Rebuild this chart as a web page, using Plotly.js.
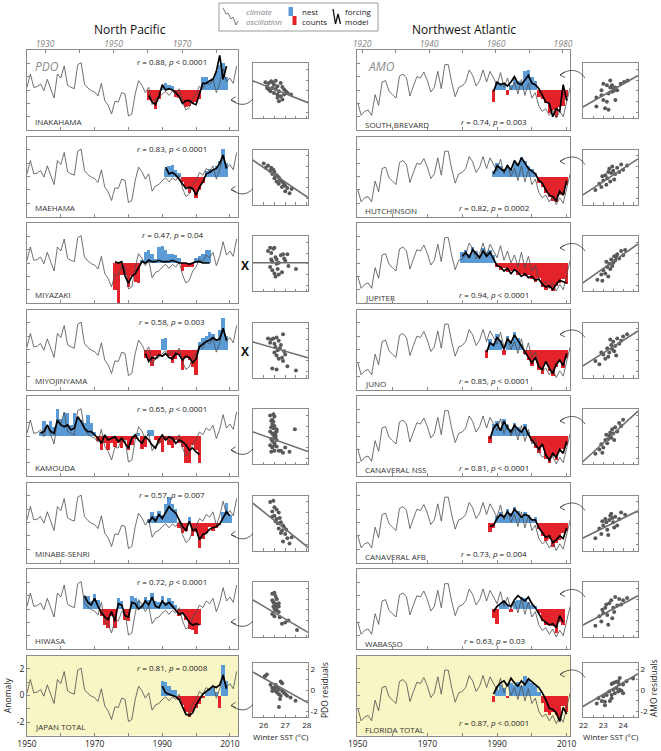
<!DOCTYPE html>
<html><head><meta charset="utf-8">
<script src="https://cdn.plot.ly/plotly-3.0.1.min.js"></script>
<style>html,body{margin:0;padding:0;background:#fff}</style>
</head><body><div id="chart" style="width:661px;height:751px"></div>
<script>
// ---------- climate indices (plotted against nesting year) ----------
const pdoStart = 1950;
const pdoValues = [0.2,1.2,0.2,0.25,0.45,-0.05,0.8,0.1,-0.6,1.2,
  0.9,1.8,0.35,0.2,0.1,1.9,2.05,0.45,0.15,-0.05,
  -0.15,-0.45,0.5,-0.8,-1.15,-1.8,-0.85,-0.9,-0.2,-0.3,
  -1.95,-1.8,-0.3,0.7,0.35,-0.2,0.2,-1.1,-0.7,-0.6,
  -0.3,-0.1,-0.4,-0.1,-0.3,0.1,-0.9,-1.5,-1.3,-0.6,
  -0.3,0.3,0.1,0.6,0.4,0.8,-0.2,0.5,1.6,0.6,
  0.9,0.5,1.8];
const amoStart = 1950;
const amoValues = [-0.95,-1.9,-1.6,-1.5,-1.9,-0.35,-1.15,0.6,0.7,-0.1,
  -0.35,-0.6,1.05,1.2,0.9,-0.45,0.3,1.0,0.9,1.35,
  0.7,-0.15,0.2,1.4,0.1,1.9,1.9,0.55,-0.5,0.2,
  0.3,0.6,1.5,1.1,0.3,0.7,1.5,0.6,1.4,0.9,
  0.4,1.3,0.2,0.9,0.0,0.6,-0.3,0.8,-0.4,0.5,
  -0.6,-0.2,-1.2,-1.6,-1.4,-1.9,-1.5,-2.1,-1.6,-2.0,
  -0.9,0.2];

// ---------- North Pacific sites ----------
const pacificNames = ['INAKAHAMA','MAEHAMA','MIYAZAKI','MIYOJINYAMA','KAMOUDA','MINABE-SENRI','HIWASA','JAPAN TOTAL'];
const pacificR = ['0.88','0.83','0.47','0.58','0.65','0.57','0.72','0.81'];
const pacificP = ['&lt; 0.0001','&lt; 0.0001','= 0.04','= 0.003','&lt; 0.0001','= 0.007','&lt; 0.0001','= 0.0008'];
const pacificSignificant = [true,true,false,false,true,true,true,true];

const inakahamaStart = 1986;
const inakahamaNests = [-0.75,-0.8,-1.4,-0.7,0.3,0.5,0.4,0.3,-0.5,-0.6,-1.0,-1.3,-1.2,-1.0,-0.9,-0.7,1.0,1.0,0.7,0.9,1.4,1.9,2.0,1.0];
const inakahamaModel = [-0.4,-0.9,-1.1,-0.5,0.4,0.0,0.1,0.0,-0.2,-0.5,-1.0,-0.8,-0.8,-1.0,-1.1,-0.3,0.5,0.5,0.7,0.8,1.4,2.6,0.8,1.8];
const maehamaStart = 1991;
const maehamaNests = [0.6,0.8,0.9,0.5,0.3,-0.4,-0.8,-1.2,-1.0,-1.6,-1.0,-0.5,0.4,0.6,0.5,0.8,1.2,2.1,1.0];
const maehamaModel = [0.7,0.2,0.3,0.1,-0.2,-0.6,-0.9,-0.8,-0.9,-1.4,-0.8,-0.4,0.2,0.3,0.5,0.6,1.0,1.6,0.6];
const miyazakiStart = 1976;
const miyazakiNests = [-2.0,-3.0,-0.9,-0.9,-1.8,-1.0,-1.4,-1.5,0.2,0.8,1.0,0.7,0.3,1.2,1.3,1.0,0.7,0.7,0.6,0.4,-0.6,-0.3,-0.3,-0.3,0.4,0.5,0.7,1.0,1.0];
const miyazakiModel = [0.1,0.0,0.1,-1.0,-1.5,-1.0,-0.8,-0.3,0.1,0.0,0.2,0.1,0.1,0.2,0.1,0.1,0.1,0.2,0.1,0.0,0.0,0.0,-0.1,0.0,0.1,0.1,0.0,0.0,0.0];
const miyojinyamaStart = 1985;
const miyojinyamaNests = [-0.6,-0.8,-1.2,-0.5,-0.4,0.8,0.9,-0.5,-1.0,-0.7,-0.4,-1.5,-0.6,-0.8,-1.3,-1.9,0.6,0.9,1.0,1.3,1.2,0.8,1.5,2.4,1.0];
const miyojinyamaModel = [-0.3,-0.9,-0.6,-0.7,-0.4,-0.5,-0.3,-0.6,-0.7,-0.3,-0.4,-0.8,-0.5,-0.6,-1.0,-0.7,0.2,0.4,0.6,0.7,0.9,0.7,0.8,1.6,0.7];
const kamoudaStart = 1954;
const kamoudaNests = [0.3,1.1,0.7,1.1,0.7,2.0,1.3,1.7,1.7,0.8,1.7,1.45,1.2,0.95,1.6,0.95,0.3,-0.4,-1.05,-0.55,-1.05,-0.55,-0.8,-0.55,-0.9,-0.3,-1.05,-0.7,-0.2,0.2,-1.0,-0.8,0.45,0.45,-0.3,-0.55,-1.2,-0.3,-0.7,-0.9,-0.3,-0.55,-0.8,-2.05,-2.05,-0.7,-1.05,-2.05];
const kamoudaModel = [0.2,0.33,0.83,0.33,0.2,1.2,0.83,0.7,0.83,0.45,0.58,1.45,1.08,0.58,0.33,0.33,0.08,-0.17,-0.55,0.08,-0.3,-0.17,-0.05,-0.42,-0.17,-0.55,-0.92,-0.17,0.08,-0.3,-0.55,-0.05,-0.3,-0.67,-0.92,-0.3,0.08,-0.3,-0.05,-0.17,-0.55,-0.3,-0.42,-0.67,-1.05,-0.9,-1.2,-1.4];
const minabeStart = 1986;
const minabeNests = [0.3,0.8,0.5,0.9,0.6,1.4,1.9,1.4,1.0,-0.4,-0.8,-0.6,0.4,-1.0,-0.7,-1.9,-1.2,-0.8,-0.3,-0.6,-0.4,-0.2,0.8,1.5,0.6];
const minabeModel = [0.0,0.4,0.1,0.6,0.3,0.8,1.2,0.9,0.7,0.2,-0.3,-0.6,0.1,-0.6,-0.5,-1.3,-0.9,-0.8,-0.5,-0.4,-0.3,-0.1,0.3,0.8,0.5];
const hiwasaStart = 1967;
const hiwasaNests = [0.9,1.0,0.6,1.1,0.7,-0.5,-1.2,-1.4,-0.5,-1.4,0.8,0.6,-0.8,-0.9,1.0,0.8,0.6,0.3,0.9,0.7,1.2,0.6,0.5,1.0,0.5,0.8,0.6,0.3,-0.5,-0.4,-0.8,-1.5,-1.6,-1.9,-1.2];
const hiwasaModel = [1.0,0.5,0.3,0.8,0.2,-0.3,-0.6,-0.8,-0.2,-0.9,0.4,0.3,-0.5,-0.6,0.5,0.4,0.0,0.2,0.6,0.3,0.9,0.2,0.1,0.6,0.3,0.5,0.2,-0.1,-0.4,-0.3,-0.6,-1.0,-1.2,-1.1,-1.2];
const japanStart = 1990;
const japanNests = [1.1,1.0,0.7,0.45,0.45,-0.3,-0.7,-1.2,-1.6,-1.2,-0.9,-0.6,-0.2,0.3,0.5,0.7,0.3,-0.95,2.3,1.1];
const japanModel = [0.7,0.2,0.1,0.0,-0.1,-0.3,-0.9,-1.4,-1.5,-1.3,-0.7,-0.3,0.1,0.3,0.5,0.7,0.6,0.8,1.5,0.5];

// winter SST vs PDO residual scatter (North Pacific)
const inakahamaSST = [26.08,26.24,26.35,26.48,26.16,26.40,26.56,26.64,26.79,26.87,26.95,26.71,26.48,26.32,26.24,26.64,26.79,26.95,27.11,27.27,26.71,26.64,26.87,26.40,26.56,27.03,26.16];
const inakahamaResid = [0.79,0.73,0.88,0.57,0.42,0.27,0.17,0.42,0.73,0.36,0.11,-0.04,-0.20,-0.04,0.11,-0.35,-0.51,-0.35,-0.20,-0.35,-0.97,-0.66,-0.81,0.79,0.94,-0.04,0.27];
const maehamaSST = [26.0,26.1,26.2,26.3,26.35,26.4,26.5,26.5,26.6,26.6,26.7,26.7,26.8,26.85,26.9,27.0,27.0,27.1,27.2,27.3,26.45,26.55,26.75,26.95];
const maehamaResid = [1.3,0.9,1.1,0.6,0.9,0.3,0.5,-0.1,0.2,-0.4,0.0,-0.6,-0.3,-0.9,-0.5,-0.8,-1.3,-1.0,-1.5,-1.1,0.7,0.1,-0.2,-0.7];
const miyazakiSST = [26.2,26.3,26.35,26.45,26.5,26.55,26.6,26.3,26.4,26.5,26.65,26.7,26.8,26.9,27.0,27.1,27.15,26.4,26.55,26.7,26.85,27.5,26.35,26.6,26.95];
const miyazakiResid = [1.2,1.5,1.0,1.4,1.5,0.6,0.4,-0.3,-0.6,-0.9,-0.5,0.1,0.8,0.9,0.3,0.9,-0.2,0.2,-1.2,-1.0,-0.8,-0.5,0.4,0.0,0.5];
const miyojinyamaSST = [26.2,26.35,26.45,26.6,26.7,26.9,26.5,26.55,26.75,26.8,26.95,27.0,26.6,26.7,26.85,26.4,26.6,27.1,27.5,26.3,26.5,26.65,26.9];
const miyojinyamaResid = [1.1,1.0,1.1,1.2,0.9,1.5,0.6,0.3,0.2,0.5,-0.1,-0.4,-0.5,-0.8,-0.7,-1.7,-1.8,-1.5,-1.9,0.7,-0.2,0.0,-1.0];
const kamoudaSST = [26.3,26.45,26.5,26.35,26.4,26.5,26.6,26.3,26.4,26.45,26.55,26.35,26.4,26.5,26.6,26.3,26.4,26.5,26.45,26.35,26.55,26.6,26.7,26.8,26.9,27.0,27.2,26.45,26.5,26.55,27.45,26.35,26.6,26.4,26.5];
const kamoudaResid = [2.0,2.1,1.9,1.5,1.2,1.0,0.7,0.5,0.3,0.2,0.0,-0.2,-0.4,-0.6,-0.3,-0.8,-1.0,-1.3,0.8,0.9,0.4,-0.9,-1.3,-1.3,-1.5,-1.0,-1.4,1.4,-0.1,0.1,0.7,-1.4,0.5,1.6,-0.8];
const minabeSST = [26.3,26.45,26.5,26.4,26.6,26.7,26.5,26.6,26.75,26.8,26.9,26.65,26.7,26.85,26.95,27.0,27.1,27.2,26.55,26.8,27.05,26.4,26.9,27.3];
const minabeResid = [2.0,2.1,1.5,1.1,1.3,1.0,0.7,0.4,0.5,0.1,-0.2,0.0,-0.5,-0.7,-0.4,-1.0,-1.4,-1.9,0.2,-0.9,-0.6,0.6,-1.7,-1.3];
const hiwasaSST = [26.4,26.5,26.55,26.6,26.4,26.45,26.5,26.6,26.65,26.7,26.5,26.55,26.6,26.7,26.4,26.5,26.75,26.85,27.0,26.6,26.7,27.15,27.55,26.45,26.55];
const hiwasaResid = [1.5,1.6,1.3,1.0,0.9,0.7,0.6,0.5,0.4,0.3,0.1,-0.1,0.0,-0.2,-0.4,-0.6,-0.7,-1.3,-1.2,1.0,0.6,-1.0,-1.9,0.3,0.2];
const japanSST = [26.07,26.15,26.04,26.32,26.40,26.48,26.55,26.63,26.48,26.40,26.55,26.71,26.79,26.86,26.63,26.71,26.79,26.86,26.94,27.02,27.09,27.25,27.48,26.76,26.71,26.55];
const japanResid = [1.36,1.51,1.30,0.53,0.23,0.14,0.23,0.29,0.08,-0.07,-0.07,0.08,0.84,0.68,-0.23,-0.38,-0.53,-0.07,-0.23,-0.38,-0.53,-0.68,-0.99,-0.84,-1.60,0.53];
const pacificFitSlope = [-0.80,-1.364,0,-0.578,-0.717,-1.612,-1.182,-1.147];
const pacificFitIntercept = [21.33,36.38,0.1,15.52,18.74,42.98,31.05,30.98];

// ---------- Northwest Atlantic sites ----------
const atlanticNames = ['SOUTH BREVARD','HUTCHINSON','JUPITER','JUNO','CANAVERAL NSS','CANAVERAL AFB','WABASSO','FLORIDA TOTAL'];
const atlanticR = ['0.74','0.82','0.94','0.85','0.81','0.73','0.63','0.87'];
const atlanticP = ['= 0.003','= 0.0002','&lt; 0.0001','&lt; 0.0001','&lt; 0.0001','= 0.004','= 0.03','&lt; 0.0001'];

const brevardStart = 1989;
const brevardNests = [-0.9,0.6,0.5,0.5,-0.4,0.4,0.8,0.7,0.6,1.4,1.5,1.0,0.7,-0.5,-0.7,-1.0,-1.7,-1.5,-2.0,-1.3,-1.2,-0.5];
const brevardModel = [-0.1,0.6,0.4,0.5,0.3,0.6,1.0,0.5,0.4,0.8,1.1,0.5,0.4,0.1,-0.4,-0.9,-1.0,-2.0,-1.4,-1.6,0.4,-0.8];
const hutchinsonStart = 1989;
const hutchinsonNests = [0.4,1.0,0.8,0.6,0.9,0.6,1.2,1.0,1.5,1.2,0.8,0.6,0.3,-0.5,-0.8,-1.2,-1.5,-1.8,-1.9,-1.4,-1.3,-0.6];
const hutchinsonModel = [0.2,0.8,0.6,0.4,0.8,0.5,1.2,0.8,1.4,1.0,0.6,0.4,0.2,-0.3,-0.5,-1.0,-1.4,-1.5,-1.8,-1.1,-1.4,-0.3];
const jupiterStart = 1980;
const jupiterNests = [0.8,1.0,0.7,1.2,0.9,0.6,1.1,0.8,1.0,0.6,-0.3,-0.5,-0.4,-0.7,-0.6,-0.5,-0.9,-0.8,-1.0,-0.9,-1.2,-1.4,-1.1,-1.8,-2.0,-1.9,-2.1,-1.7,-1.5,-1.2,-1.6];
const jupiterModel = [0.5,0.8,0.4,1.0,0.7,0.4,0.9,0.5,0.8,0.3,-0.2,-0.3,-0.6,-0.4,-0.8,-0.5,-0.7,-1.0,-0.8,-1.1,-1.0,-1.3,-1.2,-1.6,-1.8,-1.7,-2.0,-1.6,-1.3,-1.4,-1.5];
const junoStart = 1987;
const junoNests = [-0.6,0.8,0.5,1.2,0.7,-0.4,1.0,0.6,1.3,0.9,0.4,-0.3,-0.8,-1.2,-0.7,-1.5,-1.8,-1.0,-1.6,-2.0,-1.3,-0.9,-1.4,-0.6];
const junoModel = [-0.2,0.5,0.3,0.9,0.6,0.0,0.8,0.5,1.1,0.7,0.3,-0.2,-0.6,-1.0,-0.6,-1.3,-1.5,-0.9,-1.4,-1.8,-1.1,-0.8,-1.2,-0.3];
const nssStart = 1988;
const nssNests = [-0.5,0.9,1.1,0.6,1.3,0.8,0.5,1.0,0.7,0.4,0.9,0.3,-0.4,-0.9,-1.3,-0.8,-1.7,-2.0,-1.5,-1.8,-1.2,-1.0,-0.7];
const nssModel = [-0.2,0.6,0.9,0.4,1.1,0.6,0.3,0.8,0.5,0.3,0.7,0.1,-0.3,-0.7,-1.0,-0.6,-1.4,-1.8,-1.3,-1.6,-1.0,-1.3,-0.4];
const afbStart = 1988;
const afbNests = [-0.7,-0.4,0.5,0.8,0.6,1.0,0.7,1.2,0.9,0.5,0.8,0.6,0.3,0.4,-0.5,-1.0,-1.4,-1.2,-1.8,-1.5,-1.3,-0.8,-0.6];
const afbModel = [-0.3,-0.2,0.3,0.6,0.4,0.8,0.5,1.0,0.7,0.4,0.6,0.5,0.2,0.2,-0.4,-0.8,-1.1,-1.0,-1.5,-1.3,-1.0,-1.2,-0.4];
const wabassoStart = 1989;
const wabassoNests = [-0.7,-1.1,0.4,0.5,0.3,-0.2,0.6,0.7,0.9,0.8,0.5,0.3,0.2,-0.3,-0.9,-1.2,-1.1,-1.3,-1.8,-1.0,-1.2];
const wabassoModel = [-0.2,0.2,0.4,0.6,0.3,0.2,0.7,1.0,0.8,0.6,0.9,0.4,0.1,-0.3,-0.8,-1.0,-1.2,-1.1,-1.4,-0.5,-1.0];
const floridaStart = 1989;
const floridaNests = [-0.45,0.45,0.8,0.6,-0.15,0.95,0.8,1.05,0.7,1.45,1.2,0.95,0.7,0.3,-0.55,-1.2,-1.45,-1.2,-1.45,-1.8,-0.8,-1.2];
const floridaModel = [0.1,0.65,0.95,1.1,0.7,1.3,0.95,0.7,1.1,0.8,1.25,1.05,0.8,0.6,0.2,-0.3,-0.95,-1.05,-1.3,-1.95,-0.9,-1.4];

// winter SST vs AMO residual scatter (Northwest Atlantic)
const brevardSST = [22.65,22.91,23.00,23.18,23.35,23.44,23.53,23.61,23.70,23.44,23.26,23.00,23.18,22.65,23.09,23.26,23.61,23.88,24.05,24.23,22.91,23.53,23.35];
const brevardResid = [-0.62,-0.41,0.66,0.51,0.97,0.51,0.21,0.30,0.05,-0.10,-0.25,-0.87,-1.02,-1.48,-1.63,-1.78,-0.87,0.66,0.82,0.97,0.05,-0.01,0.30];
const hutchinsonSST = [22.6,22.8,22.9,23.0,23.1,23.2,23.25,23.3,23.4,23.45,23.5,23.6,23.7,23.8,23.9,24.0,24.2,23.15,23.35,23.55,22.95];
const hutchinsonResid = [-1.2,-0.6,-0.9,-0.3,0.2,-0.1,0.5,0.8,0.4,1.0,0.6,0.3,0.9,0.5,1.2,0.7,1.1,-0.7,-0.4,-0.2,0.1];
const jupiterSST = [22.7,22.9,23.0,23.1,23.2,23.3,23.35,23.4,23.5,23.55,23.6,23.7,23.8,23.9,24.0,24.1,23.25,23.45,23.65,22.95,23.15];
const jupiterResid = [-1.5,-1.0,-0.6,-0.9,-0.3,0.0,-0.5,0.4,0.1,0.7,0.3,0.9,0.5,1.2,0.8,1.3,-1.2,-0.2,0.6,-1.6,0.2];
const junoSST = [22.6,22.8,23.0,23.1,23.2,23.3,23.4,23.45,23.5,23.6,23.7,23.8,23.9,24.0,24.2,23.25,23.55,23.35,22.9,23.65];
const junoResid = [-1.0,-1.3,-0.4,-0.8,0.2,-0.2,0.5,0.1,0.8,0.4,1.1,0.6,0.9,1.3,1.5,-0.6,-0.1,1.0,-0.2,-0.5];
const nssSST = [22.6,22.8,22.9,23.0,23.1,23.2,23.3,23.35,23.4,23.5,23.6,23.7,23.8,23.9,24.0,23.25,23.45,23.15,22.95,23.55];
const nssResid = [-1.6,-1.2,-0.7,-1.0,-0.3,-0.6,0.1,0.4,-0.1,0.3,0.9,0.5,1.3,1.0,1.6,-0.2,0.7,0.2,-1.5,-0.3];
const afbSST = [22.6,22.8,22.9,23.0,23.1,23.2,23.3,23.4,23.5,23.6,23.7,23.8,23.9,24.1,23.25,23.45,23.15,22.95,23.55,23.35];
const afbResid = [-1.4,-0.5,-1.0,-0.2,0.4,-0.6,0.3,0.9,0.1,0.6,-0.2,0.4,1.0,0.8,-1.1,0.5,0.1,0.2,-0.4,0.7];
const wabassoSST = [22.6,22.8,22.9,23.0,23.1,23.2,23.3,23.4,23.5,23.6,23.7,23.8,23.9,24.0,24.2,23.25,23.45,23.15,22.95,23.55];
const wabassoResid = [-1.5,-0.6,-1.1,-0.3,0.2,-0.5,0.6,0.9,0.2,1.2,0.4,1.0,0.5,0.9,1.1,-1.4,-0.8,0.5,0.0,-0.2];
const floridaSST = [22.67,22.92,23.08,23.00,23.17,23.30,23.42,23.50,23.42,23.50,23.63,23.75,23.83,23.80,23.67,23.58,23.75,23.83,23.92,24.00,24.00,24.17,24.50,23.08,23.33,23.42,22.75];
const floridaResid = [-1.26,-1.03,-1.09,-0.60,-0.44,-0.12,-0.44,0.05,0.60,0.69,0.79,0.86,1.18,0.54,0.21,-0.28,-0.12,0.05,-0.05,-0.28,0.54,0.86,1.12,-1.42,-1.03,-0.77,-0.77];
const atlanticFitSlope = [1.061,1.211,1.311,1.179,1.70,0.918,0.986,1.125];
const atlanticFitIntercept = [-24.83,-28.25,-30.59,-27.37,-39.68,-21.55,-23.09,-26.27];

// axis labels
const bottomTickYears = [1950,1960,1970,1980,1990,2000,2010];
const bottomTickText = ['1950','','1970','','1990','','2010'];
const pacificTopYears = [1930,1940,1950,1960,1970,1980];
const pacificTopText = ['1930','','1950','','1970',''];
const atlanticTopYears = [1920,1930,1940,1950,1960,1970,1980];
const atlanticTopText = ['1920','','1940','','1960','','1980'];

// ---------- assemble ----------
const pacificSites = [
  [inakahamaStart,inakahamaNests,inakahamaModel,inakahamaSST,inakahamaResid],
  [maehamaStart,maehamaNests,maehamaModel,maehamaSST,maehamaResid],
  [miyazakiStart,miyazakiNests,miyazakiModel,miyazakiSST,miyazakiResid],
  [miyojinyamaStart,miyojinyamaNests,miyojinyamaModel,miyojinyamaSST,miyojinyamaResid],
  [kamoudaStart,kamoudaNests,kamoudaModel,kamoudaSST,kamoudaResid],
  [minabeStart,minabeNests,minabeModel,minabeSST,minabeResid],
  [hiwasaStart,hiwasaNests,hiwasaModel,hiwasaSST,hiwasaResid],
  [japanStart,japanNests,japanModel,japanSST,japanResid]];
const atlanticSites = [
  [brevardStart,brevardNests,brevardModel,brevardSST,brevardResid],
  [hutchinsonStart,hutchinsonNests,hutchinsonModel,hutchinsonSST,hutchinsonResid],
  [jupiterStart,jupiterNests,jupiterModel,jupiterSST,jupiterResid],
  [junoStart,junoNests,junoModel,junoSST,junoResid],
  [nssStart,nssNests,nssModel,nssSST,nssResid],
  [afbStart,afbNests,afbModel,afbSST,afbResid],
  [wabassoStart,wabassoNests,wabassoModel,wabassoSST,wabassoResid],
  [floridaStart,floridaNests,floridaModel,floridaSST,floridaResid]];

const W = 661, H = 751;
const fx = v => v / W, fy = v => 1 - v / H;
const FONT = 'Open Sans, Arial, sans-serif';
const BLUE = '#5b9bd5', RED = '#e4222a', FRAME = '#8a8a8a', YELLOW = '#f9f6c6';
const years = (start, n) => Array.from({length: n}, (_, i) => start + i);
const axId = (p, k) => k === 1 ? p : p + k;
const axKey = (p, k) => k === 1 ? p + 'axis' : p + 'axis' + k;

const traces = [];
const layout = {
  width: W, height: H, margin: {l: 0, r: 0, t: 0, b: 0},
  paper_bgcolor: '#fff', plot_bgcolor: '#fff', showlegend: false, bargap: 0,
  font: {family: FONT, size: 8, color: '#222'},
  annotations: [], shapes: []
};
function ann(x, y, text, opt) {
  layout.annotations.push(Object.assign({xref: 'paper', yref: 'paper', x: fx(x), y: fy(y), text: text,
    showarrow: false, xanchor: 'center', yanchor: 'middle', font: {family: FONT, size: 8, color: '#222'}}, opt || {}));
}
function pathPx(cmds) {
  return cmds.map(c => c[0] + c.slice(1).reduce((s, v, i) => s + (i ? (i % 2 ? ',' : ' ') : '') + (i % 2 ? fy(v) : fx(v)).toFixed(5), '')).join(' ');
}
function shapePath(cmds, color, width) {
  layout.shapes.push({type: 'path', xref: 'paper', yref: 'paper', path: pathPx(cmds), line: {color: color, width: width}});
}

const columns = [
  {sites: pacificSites, names: pacificNames, r: pacificR, p: pacificP, clim: pdoValues, climStart: pdoStart,
   x0: 27, x1: 238, range: [1950, 2012.4], sx0: 252.5, sx1: 308, sRange: [25.48, 28.06], sTicks: [25.5,26,26.5,27,27.5,28],
   sText: ['', '26', '', '27', '', '28'], slope: pacificFitSlope, icpt: pacificFitIntercept, resLabel: 'PDO residuals',
   topRange: [1924.74, 1986.35], topYears: pacificTopYears, topText: pacificTopText, idxLabel: 'PDO'},
  {sites: atlanticSites, names: atlanticNames, r: atlanticR, p: atlanticP, clim: amoValues, climStart: amoStart,
   x0: 357, x1: 570, range: [1949.8, 2010.95], sx0: 582.5, sx1: 638, sRange: [21.95, 24.75], sTicks: [22,22.5,23,23.5,24,24.5],
   sText: ['22', '', '23', '', '24', ''], slope: atlanticFitSlope, icpt: atlanticFitIntercept, resLabel: 'AMO residuals',
   topRange: [1918.5, 1982.1], topYears: atlanticTopYears, topText: atlanticTopText, idxLabel: 'AMO'}
];

const leftArrowDy = [50, 53, 0, 0, 54, 52, 53, 50];

columns.forEach((col, c) => {
  col.sites.forEach((site, r) => {
    const [start, nests, model, sst, resid] = site;
    const k = c * 8 + r + 1, s = 16 + c * 8 + r + 1;
    const top = 50 + 86.5 * r;
    const last = r === 7;
    const ny = years(start, nests.length);
    traces.push({type: 'bar', x: ny, y: nests, width: 1, marker: {color: nests.map(v => v >= 0 ? BLUE : RED), line: {width: 0}},
      xaxis: axId('x', k), yaxis: axId('y', k), hoverinfo: 'skip'});
    traces.push({type: 'scatter', mode: 'lines', x: years(col.climStart, col.clim.length), y: col.clim,
      line: {color: '#4d4d4d', width: 0.8}, xaxis: axId('x', k), yaxis: axId('y', k), hoverinfo: 'skip'});
    traces.push({type: 'scatter', mode: 'lines', x: ny, y: model, line: {color: '#000', width: 1.7},
      xaxis: axId('x', k), yaxis: axId('y', k), hoverinfo: 'skip'});
    layout[axKey('x', k)] = {domain: [fx(col.x0), fx(col.x1)], range: col.range, anchor: axId('y', k),
      showline: true, mirror: true, linecolor: FRAME, linewidth: 1, ticks: 'inside', ticklen: 3, tickcolor: FRAME,
      tickvals: bottomTickYears, ticktext: bottomTickText, showticklabels: last, showgrid: false, zeroline: false,
      tickfont: {family: FONT, size: 8.5, color: '#222'}, fixedrange: true};
    layout[axKey('y', k)] = {domain: [fy(top + 80), fy(top)], range: [-3, 3], anchor: axId('x', k),
      showline: true, mirror: true, linecolor: FRAME, linewidth: 1, ticks: 'inside', ticklen: 3, tickcolor: FRAME,
      tickvals: [-2, -1, 0, 1, 2], ticktext: ['-2', '', '0', '', '2'], showticklabels: last && c === 0,
      showgrid: false, zeroline: false, tickfont: {family: FONT, size: 8.5, color: '#222'}, fixedrange: true};
    if (last) {
      layout.shapes.push({type: 'rect', xref: axId('x', k) + ' domain', yref: axId('y', k) + ' domain',
        x0: 0, x1: 1, y0: 0, y1: 1, fillcolor: YELLOW, line: {width: 0}, layer: 'below'});
    }
    ann(col.x0 + 6, top + (c === 0 ? 71 : 74), col.names[r], {xanchor: 'left', font: {family: FONT, size: 8, color: '#333'}});
    const statText = '<i>r</i> = ' + col.r[r] + ', <i>p</i> ' + col.p[r];
    if (c === 0) ann(172, top + 12, statText);
    else ann(494, top + (last ? 67 : 71), statText);

    const sy0 = last ? 663 : top + 13, sy1 = last ? 717 : top + 68;
    traces.push({type: 'scatter', mode: 'markers', x: sst, y: resid, marker: {color: '#595959', size: 4},
      xaxis: axId('x', s), yaxis: axId('y', s), hoverinfo: 'skip'});
    traces.push({type: 'scatter', mode: 'lines', x: col.sRange,
      y: col.sRange.map(v => col.icpt[r] + col.slope[r] * v), line: {color: '#6e6e6e', width: 1.6},
      xaxis: axId('x', s), yaxis: axId('y', s), hoverinfo: 'skip'});
    layout[axKey('x', s)] = {domain: [fx(col.sx0), fx(col.sx1)], range: col.sRange, anchor: axId('y', s),
      showline: true, mirror: true, linecolor: FRAME, linewidth: 1, ticks: 'inside', ticklen: 2.5, tickcolor: FRAME,
      tickvals: col.sTicks, ticktext: col.sText, showticklabels: last, showgrid: false, zeroline: false,
      tickfont: {family: FONT, size: 8, color: '#222'}, fixedrange: true};
    layout[axKey('y', s)] = {domain: [fy(sy1), fy(sy0)], range: [-2.55, 2.6], anchor: axId('x', s), side: 'right',
      showline: true, mirror: true, linecolor: FRAME, linewidth: 1, ticks: 'inside', ticklen: 2.5, tickcolor: FRAME,
      tickvals: [-2, -1, 0, 1, 2], ticktext: ['-2', '', '0', '', '2'], showticklabels: last,
      showgrid: false, zeroline: false, tickfont: {family: FONT, size: 8, color: '#222'}, fixedrange: true};

    if (c === 0) {
      if (pacificSignificant[r]) {
        const y = top + leftArrowDy[r];
        shapePath([['M', 253, y - 1], ['C', 246, y + 7, 238, y + 5, 231, y]], '#333', 0.8);
        shapePath([['M', 235.5, y - 3.2], ['L', 231, y], ['L', 236, y + 2.2]], '#333', 0.8);
      } else {
        ann(245, top + 42, '<b>X</b>', {font: {family: FONT, size: 12, color: '#111'}});
      }
    } else {
      const y = top + (last ? 19 : 25);
      shapePath([['M', 585, y + 3], ['C', 578, y - 7, 568, y - 6, 560, y]], '#333', 0.8);
      shapePath([['M', 564.5, y - 3], ['L', 560, y], ['L', 565, y + 2.5]], '#333', 0.8);
    }
  });
  ann(col.x0 + (c === 0 ? 20 : 24), 67, '<i>' + col.idxLabel + '</i>', {font: {family: FONT, size: 12, color: '#8c8c8c'}});
  const kt = 33 + c, kBase = c * 8 + 1;
  traces.push({type: 'scatter', mode: 'markers', x: [col.topYears[0]], y: [0], marker: {opacity: 0},
    xaxis: 'x' + kt, yaxis: axId('y', kBase), hoverinfo: 'skip'});
  layout['xaxis' + kt] = {overlaying: axId('x', kBase), anchor: axId('y', kBase), side: 'top', range: col.topRange,
    tickvals: col.topYears, ticktext: col.topText, ticks: 'inside', ticklen: 3, tickcolor: FRAME,
    showline: false, showgrid: false, zeroline: false, fixedrange: true,
    tickfont: {family: FONT, size: 8.5, color: '#7f7f7f', style: 'italic'}};
});

ann(130, 30, 'North Pacific', {font: {family: FONT, size: 12, color: '#111'}});
ann(464, 30, 'Northwest Atlantic', {font: {family: FONT, size: 12, color: '#111'}});
ann(7, 696, 'Anomaly', {textangle: -90, font: {family: FONT, size: 8.5, color: '#222'}});
ann(324, 690, 'PDO residuals', {textangle: -90, font: {family: FONT, size: 8.5, color: '#222'}});
ann(653, 688, 'AMO residuals', {textangle: -90, font: {family: FONT, size: 8.5, color: '#222'}});
ann(281, 736, 'Winter SST (°C)', {font: {family: FONT, size: 8, color: '#222'}});
ann(611, 736, 'Winter SST (°C)', {font: {family: FONT, size: 8, color: '#222'}});

layout.shapes.push({type: 'rect', xref: 'paper', yref: 'paper', x0: fx(219), x1: fx(378), y0: fy(31), y1: fy(3),
  line: {color: '#9a9a9a', width: 1}, fillcolor: 'rgba(0,0,0,0)'});
shapePath([['M', 223, 8], ['L', 226, 14], ['L', 228, 13], ['L', 231, 19], ['L', 233, 17], ['L', 236, 25], ['L', 238, 21]], '#555', 0.8);
ann(244, 12, '<i>climate</i>', {xanchor: 'left', font: {family: FONT, size: 8, color: '#7f7f7f'}});
ann(244, 21, '<i>oscillation</i>', {xanchor: 'left', font: {family: FONT, size: 8, color: '#7f7f7f'}});
layout.shapes.push({type: 'rect', xref: 'paper', yref: 'paper', x0: fx(288.5), x1: fx(293), y0: fy(16), y1: fy(7), fillcolor: BLUE, line: {width: 0}});
layout.shapes.push({type: 'rect', xref: 'paper', yref: 'paper', x0: fx(292.5), x1: fx(296.5), y0: fy(25), y1: fy(16), fillcolor: RED, line: {width: 0}});
ann(300, 12, 'nest', {xanchor: 'left', font: {family: FONT, size: 8, color: '#222'}});
ann(300, 21, 'counts', {xanchor: 'left', font: {family: FONT, size: 8, color: '#222'}});
shapePath([['M', 333, 9], ['L', 335.5, 24], ['L', 338, 14], ['L', 340.5, 24]], '#111', 1.3);
ann(343, 12, 'forcing', {xanchor: 'left', font: {family: FONT, size: 8, color: '#222'}});
ann(343, 21, 'model', {xanchor: 'left', font: {family: FONT, size: 8, color: '#222'}});

Plotly.newPlot('chart', traces, layout, {staticPlot: true, displayModeBar: false});
</script></body></html>
